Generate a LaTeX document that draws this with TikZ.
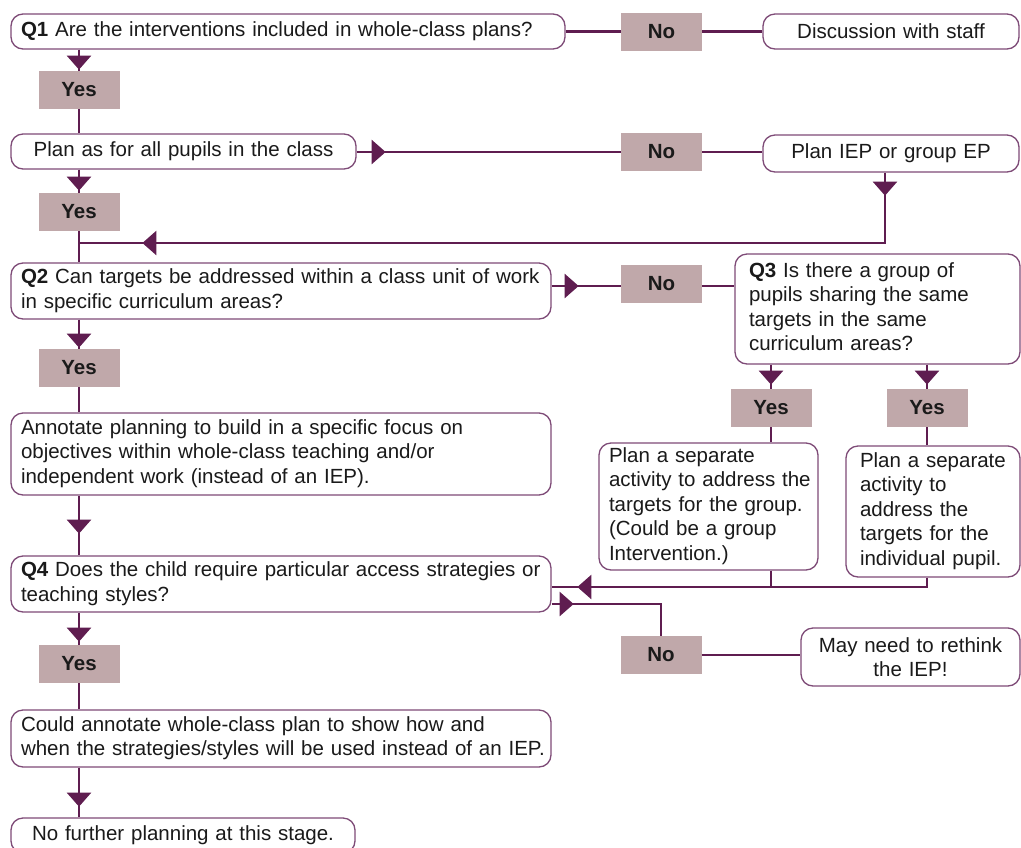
\documentclass[tikz,border=0pt]{standalone}
\usepackage{fontspec}
\setmainfont{Liberation Sans}
\usetikzlibrary{arrows.meta,decorations.markings}
\definecolor{connc}{HTML}{5F1D50}
\definecolor{bordc}{HTML}{7E4B77}
\definecolor{ynfill}{HTML}{C0A8AA}
\definecolor{txtc}{HTML}{1A1A1A}
\newcommand\txtlines[1]{\begin{tabular}{@{}l@{}}#1\end{tabular}}
\begin{document}
\begin{tikzpicture}[x=1pt,y=-1pt,
  font=\fontsize{20.5}{24.5}\selectfont,
  box/.style={draw=bordc, line width=1.3pt, fill=white, rounded corners=12pt,
    inner xsep=10pt, inner ysep=0pt, text=txtc},
  yn/.style={fill=ynfill, minimum width=81pt, minimum height=38pt, inner sep=0pt,
    font=\fontsize{20.5}{24.5}\selectfont\bfseries, text=txtc},
  cl/.style={draw=connc, line width=2.4pt},
  am/.style={postaction={decorate,decoration={markings,
    mark=at position #1 with {\arrow{Triangle[width=24pt,length=14pt]}}}}}
]
\useasboundingbox (0,0) rectangle (1021,847);
\fill[white] (0,0) rectangle (1021,847);
\clip (0,0) rectangle (1021,847);

% helper coordinates
\coordinate (ax) at (79,0);
\coordinate (ie) at (885,0);
\coordinate (j1) at (79,243);
\coordinate (r2) at (0,286);
\coordinate (j2) at (0,587);
\coordinate (r4) at (661,604);

% boxes
\node[box, align=left, text width=534pt, minimum height=35pt] (Q1) at (288,31.5)
  {\txtlines{\textbf{Q1} Are the interventions included in whole-class plans?}};
\node[yn] (No1) at (661.5,31.5) {No};
\node[box, align=center, text width=236pt, minimum height=35pt] (Disc) at (891,31.5)
  {Discussion with staff};
\node[yn] (Yes1) at (79,90) {Yes};
\node[box, align=center, text width=325pt, minimum height=35pt] (Plan1) at (183.5,151.5)
  {Plan as for all pupils in the class};
\node[yn] (No2) at (661.5,152) {No};
\node[box, align=center, text width=236pt, minimum height=37pt] (IEP) at (891,153.5)
  {Plan IEP or group EP};
\node[yn] (Yes2) at (79,212) {Yes};
\node[box, align=left, text width=520pt, minimum height=56pt] (Q2) at (281,291)
  {\txtlines{\textbf{Q2} Can targets be addressed within a class unit of work\\in specific curriculum areas?}};
\node[yn] (No3) at (661.5,284) {No};
\node[box, align=left, inner xsep=14pt, text width=257pt, minimum height=110pt] (Q3) at (877.5,309)
  {\txtlines{\textbf{Q3} Is there a group of\\pupils sharing the same\\targets in the same\\curriculum areas?}};
\node[yn] (Yes3a) at (771,408) {Yes};
\node[yn] (Yes3b) at (927,408) {Yes};
\node[box, align=left, text width=199pt, minimum height=127pt] (PlanG) at (708.5,506.5)
  {\txtlines{Plan a separate\\activity to address the\\targets for the group.\\(Could be a group\\Intervention.)}};
\node[box, align=left, inner xsep=14pt, text width=146pt, minimum height=131pt] (PlanI) at (933,511.5)
  {\txtlines{Plan a separate\\activity to\\address the\\targets for the\\individual pupil.}};
\node[yn] (Yes4) at (79,368) {Yes};
\node[box, align=left, text width=520pt, minimum height=82pt] (Ann) at (281,454)
  {\txtlines{Annotate planning to build in a specific focus on\\objectives within whole-class teaching and/or\\independent work (instead of an IEP).}};
\node[box, align=left, text width=520pt, minimum height=56pt] (Q4) at (281,584)
  {\txtlines{\textbf{Q4} Does the child require particular access strategies or\\teaching styles?}};
\node[yn] (No4) at (661,655) {No};
\node[box, align=center, text width=199pt, minimum height=58pt] (May) at (910.5,657)
  {May need to rethink\\the IEP!};
\node[yn] (Yes5) at (79,664) {Yes};
\node[box, align=left, text width=520pt, minimum height=57pt] (Could) at (281,738.5)
  {\txtlines{Could annotate whole-class plan to show how and\\when the strategies/styles will be used instead of an IEP.}};
\node[box, align=center, text width=324pt, minimum height=35pt] (NoF) at (183,835.5)
  {No further planning at this stage.};

% connectors
\draw[cl, am=20pt] (ax |- Q1.south) -- (Yes1.north);
\draw[cl] (Q1.east) -- (No1.west);
\draw[cl] (No1.east) -- (No1.east -| Disc.west);
\draw[cl] (Yes1.south) -- (ax |- Plan1.north);
\draw[cl, am=29pt] (Plan1.east |- No2.west) -- (No2.west);
\draw[cl] (No2.east) -- (No2.east -| IEP.west);
\draw[cl, am=21pt] (ax |- Plan1.south) -- (Yes2.north);
\draw[cl, am=23pt, am=813pt] (ie |- IEP.south) -- (ie |- j1) -- (j1);
\draw[cl] (Yes2.south) -- (ax |- Q2.north);
\draw[cl, am=27pt] (Q2.east |- r2) -- (No3.west |- r2);
\draw[cl] (No3.east |- r2) -- (Q3.west |- r2);
\draw[cl, am=20pt] (Yes3a |- Q3.south) -- (Yes3a.north);
\draw[cl, am=20pt] (Yes3b |- Q3.south) -- (Yes3b.north);
\draw[cl] (Yes3a.south) -- (Yes3a.south |- PlanG.north);
\draw[cl] (Yes3b.south) -- (Yes3b.south |- PlanI.north);
\draw[cl, am=359pt] (Yes3b |- PlanI.south) -- (Yes3b |- j2) -- (Q4.east |- j2);
\draw[cl] (Yes3a |- PlanG.south) -- (Yes3a |- j2);
\draw[cl, am=22pt] (Q4.east |- r4) -- (r4) -- (No4.north);
\draw[cl] (No4.east) -- (No4.east -| May.west);
\draw[cl, am=28pt] (ax |- Q2.south) -- (Yes4.north);
\draw[cl] (Yes4.south) -- (ax |- Ann.north);
\draw[cl, am=38pt] (ax |- Ann.south) -- (ax |- Q4.north);
\draw[cl, am=29pt] (ax |- Q4.south) -- (Yes5.north);
\draw[cl] (Yes5.south) -- (ax |- Could.north);
\draw[cl, am=39pt] (ax |- Could.south) -- (ax |- NoF.north);
\end{tikzpicture}
\end{document}
